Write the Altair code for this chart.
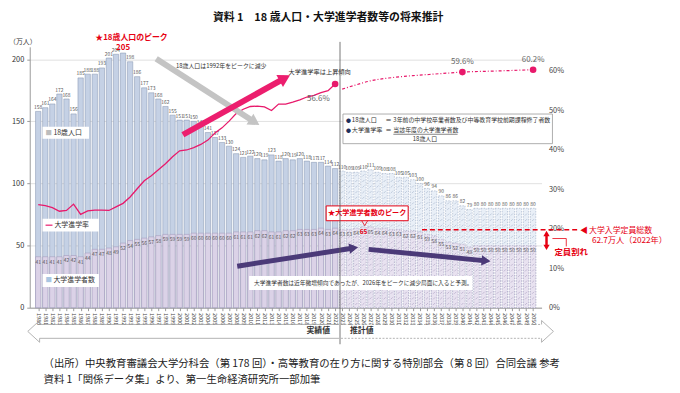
import math
import altair as alt
import pandas as pd

FONT = "Noto Sans CJK JP"

# ---------------- data ----------------
years = list(range(1980, 2051))
pop = [158, 161, 164, 172, 168, 156, 185, 188, 188, 193, 201, 204, 205, 198, 186, 177, 173, 168, 162, 155,
       151, 151, 150, 146, 141, 137, 133, 130, 124, 121, 122, 120, 119, 123, 118, 120, 119, 120, 118, 117,
       117, 114, 112,
       110, 109, 109, 110, 111, 109, 108, 108, 105, 105, 103, 100, 96, 94, 90, 86, 86, 82, 79,
       80, 80, 80, 80, 80, 80, 80, 80, 80]
enr = [41, 41, 41, 41, 42, 42, 41, 44, 47, 47, 48, 49, 52, 54, 55, 56, 57, 58, 59, 59,
       59, 59, 60, 60, 60, 60, 60, 60, 61, 61, 61, 62, 62, 61, 61, 62, 62, 63, 63, 63,
       64, 63, 64,
       63, 63, 64, 65, 65, 64, 64, 63, 63, 62, 62, 61, 59, 58, 55, 53, 52, 51, 49,
       50, 50, 50, 50, 50, 50, 50, 50, 50]
rate_years = list(range(1980, 2023))
rate = [26.1, 25.8, 25.3, 24.4, 24.6, 26.2, 23.6, 24.5, 24.7, 24.7, 24.6, 25.5, 26.4, 28.0, 30.1,
        32.1, 33.4, 34.9, 36.4, 38.2, 39.7, 39.9, 40.5, 41.3, 42.4, 44.2, 45.5, 47.2, 49.1, 50.2,
        50.9, 51.0, 50.8, 49.9, 51.5, 51.5, 52.0, 52.6, 53.3, 53.7, 54.4, 54.9, 56.6]
proj_rate_years = [2023, 2025, 2027, 2030, 2033, 2036, 2040, 2045, 2050]
proj_rate = [55.3, 56.4, 57.4, 58.2, 58.7, 59.1, 59.6, 59.9, 60.2]
dot_years = [2022, 2040, 2050]
dot_rate = [56.6, 59.6, 60.2]
dot_labels = ["56.6%", "59.6%", "60.2%"]
capacity = 62.7
last_actual = 2022
pop_peak_year = 1992
enr_peak_year = 2026

# ---------------- layout ----------------
W, H = 518, 264
PL, PT = 22, 37
TOTAL_W, TOTAL_H = 672, 381
PR = TOTAL_W - PL - W
PB = TOTAL_H - PT - H
X0, Y0 = 8 + PL, 8 + PT

RED = "#e60012"
PINK = "#e8196b"
NAVY = "#1f2f5c"

xs = alt.Scale(domain=[1979.5, 2050.5], nice=False, zero=False)
yl = alt.Scale(domain=[0, 210], nice=False)
yr = alt.Scale(domain=[0, 66], nice=False)

xaxis = alt.Axis(values=years, labelAngle=90, labelFontSize=5.5, labelColor="#444", tickSize=3,
                 tickColor="#999", domainColor="#999", grid=False, title=None, labelOverlap=False,
                 labelPadding=2, labelFont=FONT, format="d")
yaxis = alt.Axis(values=[0, 50, 100, 150, 200], labelFontSize=7.5, labelColor="#333", grid=True,
                 gridColor="#d9d9d9", gridWidth=0.8, domainColor="#999", tickSize=3, tickColor="#999",
                 title=None, labelPadding=3, labelFont=FONT)
raxis = alt.Axis(orient="right", values=[0, 10, 20, 30, 40, 50, 60], labelExpr="datum.value + '%'",
                 labelFontSize=7.5, labelColor="#444", domain=False, ticks=False, grid=False,
                 title=None, labelPadding=7, labelFont=FONT)


def X(field):
    return alt.X(field, type="quantitative", scale=xs, axis=xaxis)


def YL(field):
    return alt.Y(field, type="quantitative", scale=yl, axis=yaxis)


def YR(field):
    return alt.Y(field, type="quantitative", scale=yr, axis=raxis)


df = pd.DataFrame({"year": years, "pop": pop, "enr": enr})

# hatch decoration for projected bars
hatch_rows = []
for y, p, e in zip(years, pop, enr):
    if y > last_actual:
        v = 3
        while v < p - 1.5:
            hatch_rows.append({"year": y, "v": v, "part": "low" if v < e - 1 else "high"})
            v += 4.5
hatch = pd.DataFrame(hatch_rows)

act = f"datum.year <= {last_actual}"
prj = f"datum.year > {last_actual}"

top_act = alt.Chart(df).transform_filter(act).mark_bar(
    size=5.4, fill="#c5d1e5", stroke="#8090ad", strokeWidth=0.5).encode(x=X("year"), y=YL("pop"))
low_act = alt.Chart(df).transform_filter(act).mark_bar(
    size=5.4, fill="#dbd2e7", stroke="#9d92b6", strokeWidth=0.5).encode(x=X("year"), y=YL("enr"))
top_prj = alt.Chart(df).transform_filter(prj).mark_bar(
    size=5.4, fill="#e9eff7", stroke="#9aaac4", strokeWidth=0.6, strokeDash=[1.5, 1.2]).encode(
    x=X("year"), y=YL("pop"))
low_prj = alt.Chart(df).transform_filter(prj).mark_bar(
    size=5.4, fill="#e8e2f0", stroke="#a99fc0", strokeWidth=0.6, strokeDash=[1.5, 1.2]).encode(
    x=X("year"), y=YL("enr"))
hatch_layer = alt.Chart(hatch).mark_point(shape="stroke", angle=135, size=8, strokeWidth=0.6,
                                          filled=False, opacity=0.85).encode(
    x=X("year"), y=YL("v"),
    color=alt.Color("part:N", scale=alt.Scale(domain=["high", "low"], range=["#9aabc6", "#a397bb"]),
                    legend=None))

pop_lbl = alt.Chart(df).transform_filter(f"datum.year != {pop_peak_year}").mark_text(
    font=FONT, fontSize=5.0, color="#555", baseline="bottom", dy=-1.5).encode(
    x=X("year"), y=YL("pop"), text="pop:Q")
pop_peak = alt.Chart(df).transform_filter(f"datum.year == {pop_peak_year}").mark_text(
    font=FONT, fontSize=8, color=RED, fontWeight="bold", baseline="bottom", dy=-1).encode(
    x=X("year"), y=YL("pop"), text="pop:Q")
enr_lbl = alt.Chart(df).transform_filter(f"datum.year != {enr_peak_year}").mark_text(
    font=FONT, fontSize=5.0, color="#555", baseline="top", dy=3).encode(
    x=X("year"), y=YL("enr"), text="enr:Q")
enr_peak = alt.Chart(df).transform_filter(f"datum.year == {enr_peak_year}").mark_text(
    font=FONT, fontSize=6.5, color=RED, fontWeight="bold", baseline="top", dy=2).encode(
    x=X("year"), y=YL("enr"), text="enr:Q")
cap_line = alt.Chart(pd.DataFrame({"a": [0]})).mark_rule(
    color=RED, strokeWidth=1.6, strokeDash=[5, 3]).encode(
    y=alt.Y(datum=capacity, type="quantitative", scale=yl, axis=yaxis),
    x=alt.value(427 - X0), x2=alt.value(584 - X0))

left = alt.layer(top_act, low_act, top_prj, low_prj, hatch_layer, pop_lbl, pop_peak, enr_lbl, enr_peak,
                 cap_line)

rdf = pd.DataFrame({"year": rate_years, "rate": rate})
pdf = pd.DataFrame({"year": proj_rate_years, "rate": proj_rate})
ddf = pd.DataFrame({"year": dot_years, "rate": dot_rate, "lbl": dot_labels})

rate_line = alt.Chart(rdf).mark_line(color=PINK, strokeWidth=1.3).encode(x=X("year"), y=YR("rate"))
proj_line = alt.Chart(pdf).mark_line(color=PINK, strokeWidth=1.2, strokeDash=[3, 2, 1, 2],
                                     interpolate="monotone").encode(x=X("year"), y=YR("rate"))
dots = alt.Chart(ddf).mark_circle(size=45, color=PINK, opacity=1).encode(x=X("year"), y=YR("rate"))
lbl_first = alt.Chart(ddf).transform_filter(f"datum.year == {last_actual}").mark_text(
    font=FONT, fontSize=8, color="#666", dx=-17, dy=15).encode(x=X("year"), y=YR("rate"), text="lbl:N")
lbl_rest = alt.Chart(ddf).transform_filter(f"datum.year > {last_actual}").mark_text(
    font=FONT, fontSize=8, color="#666", dy=-10).encode(x=X("year"), y=YR("rate"), text="lbl:N")

right = alt.layer(rate_line, proj_line, dots, lbl_first, lbl_rest)

# ---------------- annotations (page pixel coordinates) ----------------
dummy = pd.DataFrame({"a": [0]})


def T(s, x, y, size=6.0, color="#333", align="left", weight="normal", baseline="middle"):
    return alt.Chart(dummy).mark_text(text=s, font=FONT, fontSize=size, color=color, align=align,
                                      fontWeight=weight, baseline=baseline).encode(
        x=alt.value(x - X0), y=alt.value(y - Y0))


def R(x1, y1, x2, y2, color="#999", width=1.0, dash=None):
    kw = dict(color=color, strokeWidth=width, strokeCap="butt")
    if dash:
        kw["strokeDash"] = dash
    return alt.Chart(dummy).mark_rule(**kw).encode(
        x=alt.value(x1 - X0), x2=alt.value(x2 - X0), y=alt.value(y1 - Y0), y2=alt.value(y2 - Y0))


def BOX(x1, y1, x2, y2, fill="white", stroke=None, width=0.8):
    kw = dict(fill=fill, opacity=1)
    if stroke:
        kw["stroke"] = stroke
        kw["strokeWidth"] = width
    return alt.Chart(dummy).mark_rect(**kw).encode(
        x=alt.value(x1 - X0), x2=alt.value(x2 - X0), y=alt.value(y1 - Y0), y2=alt.value(y2 - Y0))


def TRI(x, y, ang, size, color):
    return alt.Chart(dummy).mark_point(shape="triangle-up", filled=True, size=size, angle=ang,
                                       color=color, opacity=1).encode(
        x=alt.value(x - X0), y=alt.value(y - Y0))


def ARROW(x1, y1, x2, y2, width, color, head):
    dx, dy = x2 - x1, y2 - y1
    L = math.hypot(dx, dy)
    ux, uy = dx / L, dy / L
    r = math.sqrt(head) / 2.0
    cx, cy = x2 - ux * r * 0.8, y2 - uy * r * 0.8
    ang = math.degrees(math.atan2(dx, -dy)) % 360
    return [R(x1, y1, cx, cy, color, width), TRI(cx, cy, ang, head, color)]


anns = []
anns.append(T("資料 1　18 歳人口・大学進学者数等の将来推計", 332, 16, size=11, align="center",
              weight="bold", color="#111"))
anns.append(T("（万人）", 23, 40, size=7, align="center"))
anns.append(T("★18歳人口のピーク", 133, 36, size=8, color=RED, align="center", weight="bold"))

anns += ARROW(158, 57, 262, 124, 6, "#c4c4c4", 170)
anns.append(T("18歳人口は1992年をピークに減少", 178, 64, size=6))
anns += ARROW(185, 134, 293, 74, 6, "#ec1e6e", 190)
anns.append(T("大学進学率は上昇傾向", 292, 70, size=6.3))

# definition box
anns.append(BOX(347, 113, 559, 143, fill="white", stroke="#9a9a9a", width=0.8))
anns.append(T("●", 350, 119, size=5, color=NAVY))
anns.append(T("18歳人口", 356, 119, size=6.2))
anns.append(T("＝", 390, 119, size=6.2))
anns.append(T("3年前の中学校卒業者数及び中等教育学校前期課程修了者数", 398, 119, size=6.0))
anns.append(T("●", 350, 129, size=5, color=NAVY))
anns.append(T("大学進学率", 356, 129, size=6.2))
anns.append(T("＝", 390, 129, size=6.2))
anns.append(T("当該年度の大学進学者数", 398, 129, size=6.0))
anns.append(R(398, 133.5, 463, 133.5, "#333", 0.6))
anns.append(T("18歳人口", 430, 138, size=6.0, align="center"))

# in-chart legend labels
anns.append(BOX(43, 126, 90, 138))
anns.append(T("■", 46, 132, size=6.5, color="#bdbdbd"))
anns.append(T("18歳人口", 54, 132, size=7))
anns.append(BOX(43, 219, 100, 232))
anns.append(R(46, 225.5, 53, 225.5, PINK, 1.2))
anns.append(T("大学進学率", 55, 225.5, size=7))
anns.append(BOX(43, 275, 100, 288))
anns.append(T("■", 46, 281.5, size=6.5, color="#a9c6e2"))
anns.append(T("大学進学者数", 54, 281.5, size=7))

# peak of enrolment callout
anns.append(BOX(330, 206, 413, 221, fill="white", stroke=RED, width=1))
anns.append(T("★大学進学者数のピーク", 371.5, 213.5, size=7.2, color=RED, align="center", weight="bold"))
anns.append(R(366, 221, 369, 226, RED, 0.8))
anns.append(R(369, 226, 372, 221, RED, 0.8))

anns += ARROW(240, 267, 362, 248, 5, "#4b3a78", 110)
anns += ARROW(373, 250, 496, 262, 5, "#4b3a78", 110)
anns.append(BOX(252, 277, 478, 291))
anns.append(T("大学進学者数は近年微増傾向であったが、2026年をピークに減少局面に入ると予測。", 257, 284,
              size=5.8))

# capacity annotation
anns.append(T("◀", 587, 231, size=8, color=RED))
anns.append(T("大学入学定員総数", 596, 231, size=8, color=RED))
anns.append(T("62.7万人（2022年）", 599, 242, size=8.3, color=RED))
anns.append(R(553, 236, 553, 246, RED, 2.5))
anns.append(TRI(553, 234, 0, 40, RED))
anns.append(TRI(553, 248, 180, 40, RED))
anns.append(R(559, 239, 573, 239, RED, 0.8))
anns.append(R(573, 239, 573, 247, RED, 0.8))
anns.append(T("定員割れ", 561, 253, size=8.5, color=RED, weight="bold"))

# divider between actual and projection
anns.append(R(344, 40, 344, 346, "#555", 0.8))

# bottom period arrows
g = "#a0a0a0"
anns.append(R(40, 326, 343, 326, g, 0.8))
anns.append(R(40, 340, 343, 340, g, 0.8))
anns.append(R(40, 326, 40, 322, g, 0.8))
anns.append(R(40, 340, 40, 344, g, 0.8))
anns.append(R(40, 322, 28, 333, g, 0.8))
anns.append(R(28, 333, 40, 344, g, 0.8))
d = [2, 1.5]
anns.append(R(345, 326, 548, 326, g, 0.8, d))
anns.append(R(345, 340, 548, 340, g, 0.8, d))
anns.append(R(548, 326, 548, 322, g, 0.8))
anns.append(R(548, 340, 548, 344, g, 0.8))
anns.append(R(548, 322, 560, 333, g, 0.8))
anns.append(R(560, 333, 548, 344, g, 0.8))
anns.append(T("実績値", 322, 333, size=8, align="center", weight="bold", color="#333"))
anns.append(T("推計値", 366, 333, size=8, align="center", weight="bold", color="#333"))

# source
anns.append(T("（出所）中央教育審議会大学分科会（第 178 回）・高等教育の在り方に関する特別部会（第 8 回）合同会議  参考",
              44, 366, size=10.5, color="#222"))
anns.append(T("資料 1「関係データ集」より、第一生命経済研究所一部加筆", 44, 382, size=10.5, color="#222"))

annot = alt.layer(*anns)

chart = alt.layer(left, right, annot).resolve_scale(y="independent").properties(
    width=W, height=H,
    padding={"left": PL, "top": PT, "right": PR, "bottom": PB},
    autosize=alt.AutoSizeParams(type="none"),
).configure_view(stroke=None).configure_axis(labelFont=FONT)

chart.save("out.html", embed_options={"renderer": "svg", "actions": False})
